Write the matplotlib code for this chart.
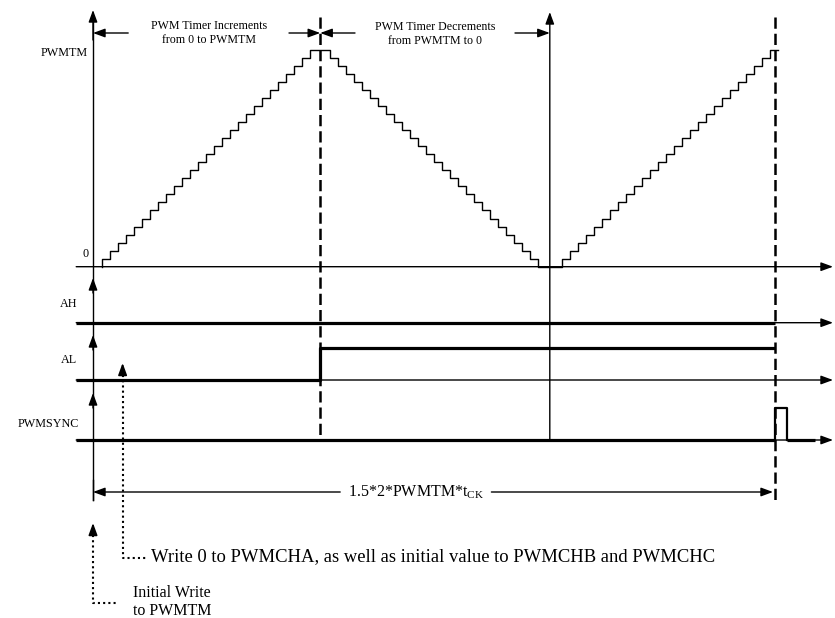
import numpy as np
import matplotlib
matplotlib.use('Agg')
import matplotlib.pyplot as plt

plt.rcParams['font.family'] = ['Liberation Serif', 'DejaVu Serif']
plt.rcParams['mathtext.fontset'] = 'custom'
plt.rcParams['mathtext.rm'] = 'Liberation Serif'
plt.rcParams['mathtext.it'] = 'Liberation Serif:italic'

# timer data: time in clock cycles from the left axis, counter in steps
PWMTM = 27
t_first_inc = 1.1      # first increment of the counter
t_peak_end = 29.6      # counter leaves PWMTM
t_second_inc = 58.6    # counter starts counting up again
t_stop = 85.6
t_peak = 28.4          # dashed line, counter = PWMTM
t_zero = 57.1          # solid line, counter back at 0
t_sync = 85.25         # dashed line, 1.5 periods
sync_pulse = [85.25, 86.8]
sync_end = 90.25
lane_start = -2.1
lane_arrow = 92.5

signal_labels = ['AH', 'AL', 'PWMSYNC']

# layout (pixels from the top of the picture)
W, H = 835, 618
X0_PX = 93
CLK_PX = 8.0
COUNT_BASE = 266.7
LEVEL_PX = 8.03
AH_Y = 322.7
AL_LOW, AL_HIGH = 380.0, 348.3
SYNC_Y, SYNC_HIGH = 440.0, 408.3
DIM_TOP_Y = 33.0
DIM_BOT_Y = 492.0

HEAD = '-|>,head_length=0.6,head_width=0.22'


def cnt_y(level):
    return COUNT_BASE - np.asarray(level) * LEVEL_PX


def arrow(ax, x0, y0, x1, y1, lw=1.0):
    ax.annotate('', xy=(x1, y1), xytext=(x0, y0),
                arrowprops=dict(arrowstyle=HEAD, color='black', lw=lw,
                                mutation_scale=12, shrinkA=0, shrinkB=0))


def main():
    fig = plt.figure(figsize=(W / 100, H / 100), dpi=100)
    ax = fig.add_axes([0, 0, 1, 1])
    ax.set_xlim(-X0_PX / CLK_PX, (W - X0_PX) / CLK_PX)
    ax.set_ylim(H, 0)
    ax.axis('off')

    # counter staircase
    up = np.arange(1, PWMTM + 1)
    down = np.arange(PWMTM - 1, -1, -1)
    times = np.concatenate([[t_first_inc],
                            t_first_inc + np.arange(PWMTM),
                            t_peak_end + np.arange(PWMTM),
                            t_second_inc + np.arange(PWMTM),
                            [t_stop]])
    levels = np.concatenate([[0], up, down, up, [PWMTM]])
    ax.step(times, cnt_y(levels), where='post', color='black', lw=1.0)

    # horizontal axes with arrows
    for y in [COUNT_BASE, AH_Y, AL_LOW, SYNC_Y]:
        arrow(ax, lane_start, y, lane_arrow, y, lw=1.0)

    # signals
    ax.plot([lane_start, t_sync], [AH_Y, AH_Y], color='black', lw=2.3,
            solid_capstyle='butt')
    ax.plot([lane_start, t_peak, t_peak, t_sync],
            [AL_LOW, AL_LOW, AL_HIGH, AL_HIGH], color='black', lw=2.3,
            solid_capstyle='butt')
    ax.plot([lane_start, sync_pulse[0]], [SYNC_Y, SYNC_Y], color='black',
            lw=2.3, solid_capstyle='butt')
    ax.plot([sync_pulse[1], sync_end], [SYNC_Y, SYNC_Y], color='black',
            lw=2.3, solid_capstyle='butt')
    ax.plot([sync_pulse[0], sync_pulse[0], sync_pulse[1], sync_pulse[1]],
            [SYNC_Y, SYNC_HIGH, SYNC_HIGH, SYNC_Y], color='black', lw=1.6)

    # vertical axis and lane arrows
    ax.plot([0, 0], [500, 20], color='black', lw=1.0)
    arrow(ax, 0, 40, 0, 10)
    for tip in [278, 335, 393]:
        arrow(ax, 0, tip + 15, 0, tip)
    arrow(ax, t_zero, SYNC_Y, t_zero, 12)

    # dashed markers
    ax.plot([t_peak, t_peak], [17, SYNC_Y], color='black', lw=1.8,
            dashes=(4.5, 2))
    ax.plot([t_sync, t_sync], [17, 500], color='black', lw=1.8,
            dashes=(4.5, 2))

    # top dimension arrows
    arrow(ax, 4.4, DIM_TOP_Y, 0, DIM_TOP_Y)
    arrow(ax, 24.5, DIM_TOP_Y, t_peak, DIM_TOP_Y)
    ax.text(14.5, DIM_TOP_Y, 'PWM Timer Increments\nfrom 0 to PWMTM',
            ha='center', va='center', fontsize=8.6, linespacing=1.25)
    arrow(ax, 32.75, DIM_TOP_Y, t_peak, DIM_TOP_Y)
    arrow(ax, 52.75, DIM_TOP_Y, t_zero, DIM_TOP_Y)
    ax.text(42.75, DIM_TOP_Y + 1, 'PWM Timer Decrements\nfrom PWMTM to 0',
            ha='center', va='center', fontsize=8.6, linespacing=1.25)

    # bottom dimension arrow
    ax.plot([0, 0], [480, 500], color='black', lw=1.0)
    arrow(ax, 30.9, DIM_BOT_Y, 0, DIM_BOT_Y)
    arrow(ax, 49.8, DIM_BOT_Y, t_sync - 0.25, DIM_BOT_Y)
    ax.text(40.35, DIM_BOT_Y, r'1.5*2*PWMTM*t$_{\mathrm{CK}}$',
            ha='center', va='center', fontsize=11.5)

    # labels
    ax.text(-0.7, cnt_y(PWMTM) + 3, 'PWMTM', ha='right', va='center',
            fontsize=8.7)
    ax.text(-0.6, 254, '0', ha='right', va='center', fontsize=8.7)
    for label, y, dx in zip(signal_labels, [304, 360, 424], [-1.9, -2.0, -1.75]):
        ax.text(dx, y, label, ha='right', va='center', fontsize=8.7)

    # write annotations (dotted)
    ax.plot([3.7, 3.7, 6.9], [375, 558, 558], color='black', lw=1.5,
            linestyle=(0, (1, 1.5)))
    arrow(ax, 3.7, 376, 3.7, 363, lw=1.2)
    ax.text(7.2, 557, 'Write 0 to PWMCHA, as well as initial value to '
            'PWMCHB and PWMCHC', ha='left', va='center', fontsize=13.4)

    ax.plot([0, 0, 3.0], [535, 603, 603], color='black', lw=1.5,
            linestyle=(0, (1, 1.5)))
    arrow(ax, 0, 536, 0, 523, lw=1.2)
    ax.text(4.96, 602, 'Initial Write\nto PWMTM', ha='left', va='center',
            fontsize=11.5, linespacing=1.15)

    fig.savefig('out.png', dpi=100)
    plt.close(fig)


if __name__ == '__main__':
    main()
